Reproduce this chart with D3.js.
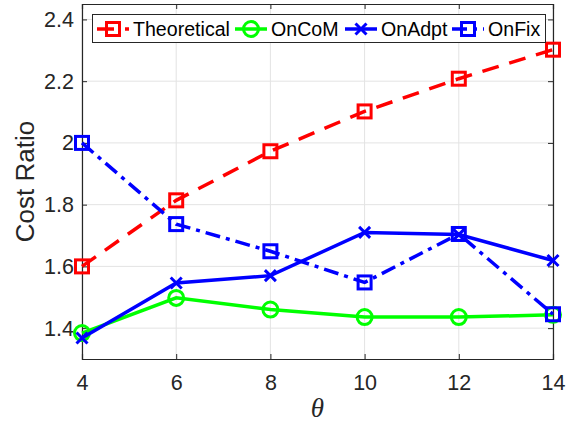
<!DOCTYPE html>
<html><head><meta charset="utf-8">
<script src="https://cdn.jsdelivr.net/npm/d3@7"></script>
<style>body{margin:0;background:#fff}svg{display:block}</style>
</head><body>
<script>
const thetas = [4, 6, 8, 10, 12, 14];
const theoretical = [1.60, 1.814, 1.973, 2.102, 2.208, 2.302];
const onCoM = [1.384, 1.498, 1.460, 1.436, 1.436, 1.443];
const onAdpt = [1.368, 1.546, 1.570, 1.710, 1.703, 1.619];
const onFix = [2.00, 1.737, 1.649, 1.548, 1.705, 1.445];
const seriesNames = ["Theoretical", "OnCoM", "OnAdpt", "OnFix"];
const yTicks = [1.4, 1.6, 1.8, 2.0, 2.2, 2.4];
const xTicks = [4, 6, 8, 10, 12, 14];

const W = 566, H = 426;
const m = {left: 82, right: 13, top: 4, bottom: 67};
const FONT = "'Liberation Sans', Arial, Helvetica, sans-serif";
const svg = d3.select("body").append("svg").attr("width", W).attr("height", H)
  .style("font-family", FONT);

const x = d3.scaleLinear().domain([4, 14]).range([m.left, W - m.right]);
const y = d3.scaleLinear().domain([1.3, 2.45]).range([H - m.bottom, m.top]);

// grid
const g = svg.append("g");
g.selectAll(".gx").data(xTicks).enter().append("line")
  .attr("x1", d => x(d)).attr("x2", d => x(d)).attr("y1", y(1.3)).attr("y2", y(2.45))
  .attr("stroke", "#e3e3e3").attr("stroke-width", 1);
g.selectAll(".gy").data(yTicks).enter().append("line")
  .attr("x1", x(4)).attr("x2", x(14)).attr("y1", d => y(d)).attr("y2", d => y(d))
  .attr("stroke", "#e3e3e3").attr("stroke-width", 1);

// axes
const axCol = "#262626";
const xAxis = svg.append("g").attr("transform", `translate(0,${y(1.3)})`)
  .call(d3.axisBottom(x).tickValues(xTicks).tickSize(-5).tickPadding(16).tickFormat(d3.format("d")));
const yAxis = svg.append("g").attr("transform", `translate(${x(4)},0)`)
  .call(d3.axisLeft(y).tickValues(yTicks).tickSize(-5).tickPadding(8).tickFormat(d => String(+d.toFixed(1))));
const yAxisR = svg.append("g").attr("transform", `translate(${x(14)},0)`)
  .call(d3.axisRight(y).tickValues(yTicks).tickSize(-5).tickFormat(""));
const xAxisT = svg.append("g").attr("transform", `translate(0,${y(2.45)})`)
  .call(d3.axisTop(x).tickValues(xTicks).tickSize(-5).tickFormat(""));
[xAxis, yAxis, yAxisR, xAxisT].forEach(a => {
  a.selectAll("path").attr("stroke", axCol).attr("stroke-width", 1.2);
  a.selectAll("line").attr("stroke", axCol);
  a.selectAll("text").attr("fill", axCol).style("font-size", "21.5px").style("font-family", FONT);
});

// labels
svg.append("text").attr("transform", `translate(34,${(y(1.3)+y(2.45))/2}) rotate(-90)`)
  .attr("text-anchor", "middle").attr("fill", axCol).style("font-size", "26px").text("Cost Ratio");
svg.append("text").attr("x", (x(4)+x(14))/2).attr("y", 417).attr("text-anchor", "middle")
  .attr("fill", axCol).style("font-family", "'Liberation Serif', 'DejaVu Serif', serif")
  .style("font-style", "italic").style("font-size", "27px").text("θ");

const series = [
  {name: seriesNames[0], vals: theoretical, color: "#ff0000", dash: "17,11", marker: "square"},
  {name: seriesNames[1], vals: onCoM, color: "#00ff00", dash: null, marker: "circle"},
  {name: seriesNames[2], vals: onAdpt, color: "#0000ff", dash: null, marker: "cross"},
  {name: seriesNames[3], vals: onFix, color: "#0000ff", dash: "15,6,4,6", marker: "square"},
];

function drawMarker(sel, type, cx, cy, color) {
  if (type === "square") {
    sel.append("rect").attr("x", cx - 6.5).attr("y", cy - 6.5).attr("width", 13).attr("height", 13)
      .attr("fill", "none").attr("stroke", color).attr("stroke-width", 3);
  } else if (type === "circle") {
    sel.append("circle").attr("cx", cx).attr("cy", cy).attr("r", 7.5)
      .attr("fill", "none").attr("stroke", color).attr("stroke-width", 3);
  } else {
    const s = 5.5;
    sel.append("path").attr("d", `M${cx-s},${cy-s}L${cx+s},${cy+s}M${cx-s},${cy+s}L${cx+s},${cy-s}`)
      .attr("stroke", color).attr("stroke-width", 3).attr("fill", "none");
  }
}

const line = d3.line().x((d, i) => x(thetas[i])).y(d => y(d));
series.forEach(s => {
  const gs = svg.append("g");
  gs.append("path").attr("d", line(s.vals)).attr("fill", "none")
    .attr("stroke", s.color).attr("stroke-width", 3.5)
    .attr("stroke-dasharray", s.dash);
  s.vals.forEach((v, i) => drawMarker(gs, s.marker, x(thetas[i]), y(v), s.color));
});

// legend
const lg = svg.append("g");
lg.append("rect").attr("x", 92.5).attr("y", 14.5).attr("width", 453).attr("height", 28)
  .attr("fill", "#fff").attr("stroke", axCol).attr("stroke-width", 1);
const legPos = [97, 235, 345, 452];
series.forEach((s, i) => {
  const lx = legPos[i], ly = 29;
  lg.append("line").attr("x1", lx).attr("x2", lx + 32).attr("y1", ly).attr("y2", ly)
    .attr("stroke", s.color).attr("stroke-width", 3.5).attr("stroke-dasharray", s.dash);
  drawMarker(lg, s.marker, lx + 16, ly, s.color);
  lg.append("text").attr("x", lx + 36).attr("y", ly + 7).attr("fill", "#000")
    .style("font-size", "19.6px").text(s.name);
});
</script>
</body></html>
